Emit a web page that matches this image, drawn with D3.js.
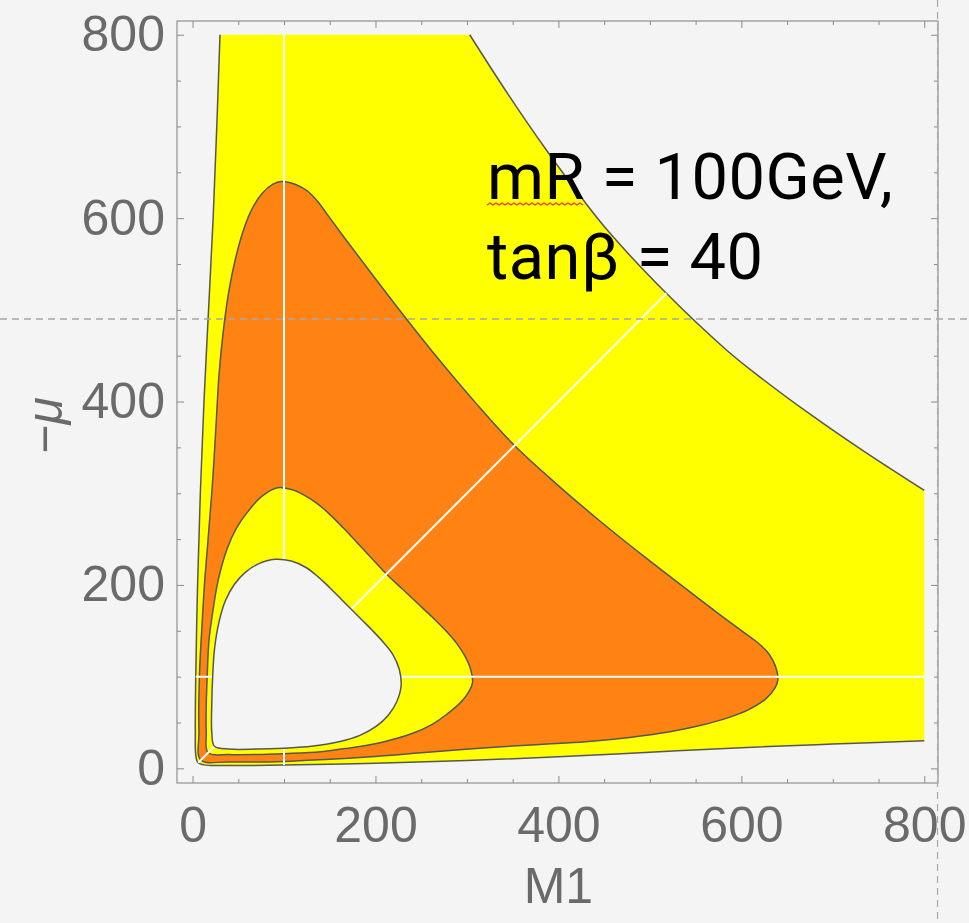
<!DOCTYPE html>
<html>
<head>
<meta charset="utf-8">
<script src="https://cdn.jsdelivr.net/npm/d3@7"></script>
<style>
  body { margin: 0; background: #f4f4f4; }
  svg { display: block; }
</style>
</head>
<body>
<script>
// contour edges, as [M1, -mu]
var outerLower = [[30,800],[26.5,700],[22.5,600],[17.5,500],[12.5,400],[8.5,300],[5.5,200],[3.5,100],[3,40],[3.5,15],[6,6],
                  [15,3.5],[40,3],[100,3.5],[200,5.5],[300,8.5],[400,12.5],[500,17.5],[600,22.5],[700,26.5],[800,30]];
var outerUpper = [[800,303],[735,345],[674,387],[620,427],[584,456],[518,518],[456,584],[427,620],[387,674],[345,735],[303,800]];
var orangeEdge = [[9,9],[7,40],[7.5,100],[10,150],[13,200],[17,250],[22,314],[26,380],[29,430],[34,480],[40,522],[47,556],
                  [55,585],[64,608],[76,627],[88,637],[97,640],[112,637],[125,630],[137,618],[148,603],[165,580],[190,547],
                  [230,495],[270,445],[310,398],[352,352],[398,310],[445,270],[495,230],[547,190],[580,165],[603,148],
                  [618,137],[630,125],[637,112],[640,97],[637,88],[627,76],[608,64],[585,55],[556,47],[522,40],[480,34],
                  [430,29],[380,26],[314,22],[250,17],[200,13],[150,10],[100,7.5],[40,7]];
var innerEdge = [[17,17],[15,40],[15,70],[16,100],[18,140],[22,170],[28,205],[38,240],[48,262],[59,278],[75,296],[93,306],
                 [108,304],[122,298],[136,289],[150,277],[165,262],[180,246],[195,230],[212,212],[230,195],[246,180],
                 [262,165],[277,150],[289,136],[298,122],[304,108],[306,93],[296,75],[278,59],[262,48],[240,38],[205,28],
                 [170,22],[140,18],[100,16],[70,15],[40,15]];
var holeEdge = [[24,24],[21,40],[21,70],[22,100],[24,130],[29,160],[36,183],[46,201],[58,214],[72,223],[90,228],[108,226],
                [124,219],[137,209],[150,197],[162,185],[173.5,173.5],[185,162],[197,150],[209,137],[219,124],[226,108],
                [228,90],[223,72],[214,58],[201,46],[183,36],[160,29],[130,24],[100,22],[70,21],[40,21]];

// mesh lines: M1 = 100, -mu = 100, M1 = -mu
var meshM1 = [100];
var meshMu = [100];
var meshDiff = [0];

var xTicks = [0, 200, 400, 600, 800];
var yTicks = [0, 200, 400, 600, 800];
var minorStep = 50;
var guideM1 = 814.5, guideMu = 490;   // the two dashed guides of the screenshot
var note1 = "mR", note1b = " = 100GeV,", note2 = "tanβ = 40";

var W = 969, H = 923;
var x = d3.scaleLinear().domain([-17, 815]).range([177, 938]);
var y = d3.scaleLinear().domain([-16, 815]).range([783, 21]);
var x0 = x.domain()[0], x1 = x.domain()[1], y0 = y.domain()[0], y1 = y.domain()[1];

var svg = d3.select("body").append("svg").attr("width", W).attr("height", H);

var openLine = d3.line().x(d => x(d[0])).y(d => y(d[1])).curve(d3.curveCatmullRom);
var closedLine = d3.line().x(d => x(d[0])).y(d => y(d[1])).curve(d3.curveCatmullRomClosed);

var outerD = openLine(outerLower) + openLine(outerUpper).replace(/^M/, "L") + "Z";
var holeD = closedLine(holeEdge);

svg.append("clipPath").attr("id", "meshclip")
  .append("path").attr("d", outerD + holeD).attr("clip-rule", "evenodd");

// fills
svg.append("path").attr("d", outerD).attr("fill", "#ffff00");
svg.append("path").attr("d", closedLine(orangeEdge)).attr("fill", "#ff8312");
svg.append("path").attr("d", closedLine(innerEdge)).attr("fill", "#ffff00");
svg.append("path").attr("d", holeD).attr("fill", "#f4f4f4");

// contour strokes
var edgeStroke = "#565656";
[openLine(outerLower), openLine(outerUpper), closedLine(orangeEdge), closedLine(innerEdge)].forEach(function(d) {
  svg.append("path").attr("d", d).attr("fill", "none").attr("stroke", edgeStroke).attr("stroke-width", 1.5);
});

// mesh lines, only inside the shaded region
var mesh = svg.append("g").attr("clip-path", "url(#meshclip)")
  .attr("stroke", "#ffffff").attr("stroke-width", 2);
meshM1.forEach(function(v) {
  mesh.append("line").attr("x1", x(v)).attr("x2", x(v)).attr("y1", y(y0)).attr("y2", y(y1));
});
meshMu.forEach(function(v) {
  mesh.append("line").attr("x1", x(x0)).attr("x2", x(x1)).attr("y1", y(v)).attr("y2", y(v));
});
meshDiff.forEach(function(v) {
  mesh.append("line").attr("x1", x(x0)).attr("y1", y(x0 - v)).attr("x2", x(x1)).attr("y2", y(x1 - v));
});

svg.append("path").attr("d", holeD).attr("fill", "none").attr("stroke", edgeStroke).attr("stroke-width", 1.5);

// frame and ticks
function minors(lo, hi) {
  return d3.range(0, hi + 1, minorStep).filter(v => v >= lo && xTicks.indexOf(v) < 0);
}
var fontNums = "'Liberation Sans', Arial, sans-serif";

function styleAxis(g, labels) {
  g.select(".domain").remove();
  g.selectAll(".tick line").attr("stroke", "#8a8a8a");
  g.selectAll("text").attr("fill", "#6a6a6a").style("font-family", fontNums).style("font-size", "50px");
  if (!labels) g.selectAll("text").remove();
}

var axes = [
  [d3.axisBottom(x), "translate(0," + y(y0) + ")", true],
  [d3.axisTop(x), "translate(0," + y(y1) + ")", false],
  [d3.axisLeft(y), "translate(" + x(x0) + ",0)", true],
  [d3.axisRight(y), "translate(" + x(x1) + ",0)", false]
];
axes.forEach(function(a) {
  var isX = a[0] === axes[0][0] || a[0] === axes[1][0];
  var major = isX ? xTicks : yTicks;
  var pad = isX ? 23 : 12;
  svg.append("g").attr("transform", a[1])
    .call(a[0].tickValues(major).tickSize(-7).tickPadding(pad).tickFormat(d3.format("d")))
    .call(g => styleAxis(g, a[2]));
  var gen = (isX ? (a[2] ? d3.axisBottom(x) : d3.axisTop(x)) : (a[2] ? d3.axisLeft(y) : d3.axisRight(y)));
  svg.append("g").attr("transform", a[1])
    .call(gen.tickValues(minors(0, 800)).tickSize(-4).tickFormat(""))
    .call(g => styleAxis(g, false));
});

svg.append("rect")
  .attr("x", x(x0)).attr("y", y(y1))
  .attr("width", x(x1) - x(x0)).attr("height", y(y0) - y(y1))
  .attr("fill", "none").attr("stroke", "#8f8f8f").attr("stroke-width", 1.2);

// axis titles
svg.append("text")
  .attr("x", x(400)).attr("y", 903)
  .attr("text-anchor", "middle")
  .style("font-family", fontNums).style("font-size", "50px").attr("fill", "#6a6a6a")
  .text("M1");

var yt = svg.append("text")
  .attr("transform", "translate(62," + y(374) + ") rotate(-90)")
  .attr("text-anchor", "middle")
  .style("font-family", fontNums).style("font-size", "50px").attr("fill", "#6a6a6a");
yt.append("tspan").text("−");
yt.append("tspan").style("font-style", "italic").text("μ");

// dashed guides
svg.append("line").attr("x1", 0).attr("x2", W).attr("y1", y(guideMu)).attr("y2", y(guideMu))
  .attr("stroke", "#a8a8a8").attr("stroke-width", 1.6).attr("stroke-dasharray", "7,5");
svg.append("line").attr("x1", x(guideM1)).attr("x2", x(guideM1)).attr("y1", 0).attr("y2", H)
  .attr("stroke", "#a8a8a8").attr("stroke-width", 1.2).attr("stroke-dasharray", "7,5");

// annotation
var fontNote = "Roboto, 'Noto Sans', sans-serif";
var t1 = svg.append("text").attr("x", 487).attr("y", 199)
  .style("font-family", fontNote).style("font-size", "65px").style("letter-spacing", "0.5px").attr("fill", "#000");
var mR = t1.append("tspan").text(note1);
t1.append("tspan").text(note1b);
svg.append("text").attr("x", 487).attr("y", 279)
  .style("font-family", fontNote).style("font-size", "65px").style("letter-spacing", "0.5px").attr("fill", "#000")
  .text(note2);

// red spell-check squiggle under "mR"
var wq = mR.node().getComputedTextLength();
var sq = d3.path();
var sx = 487, sy = 205;
sq.moveTo(sx, sy);
for (var i = 1; sx + i * 3 <= 487 + wq; i++) sq.lineTo(sx + i * 3, sy + (i % 2 ? -2 : 0));
svg.append("path").attr("d", sq.toString()).attr("fill", "none").attr("stroke", "#ee3b30").attr("stroke-width", 1.4);
</script>
</body>
</html>
